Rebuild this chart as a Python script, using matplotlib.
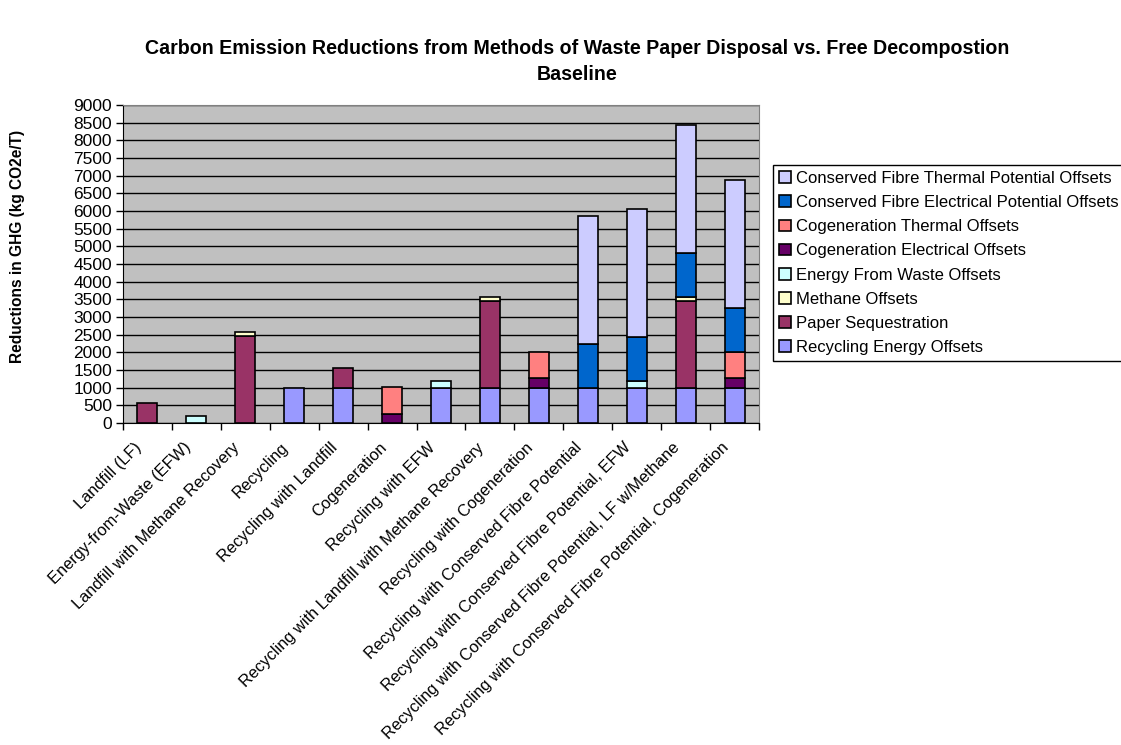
import numpy as np
import matplotlib
matplotlib.use("Agg")
import matplotlib.pyplot as plt
import matplotlib.transforms as mtransforms
from matplotlib.patches import Patch

plt.rcParams["font.family"] = ["Liberation Sans", "DejaVu Sans"]

categories = [
    "Landfill (LF)",
    "Energy-from-Waste (EFW)",
    "Landfill with Methane Recovery",
    "Recycling",
    "Recycling with Landfill",
    "Cogeneration",
    "Recycling with EFW",
    "Recycling with Landfill with Methane Recovery",
    "Recycling with Cogeneration",
    "Recycling with Conserved Fibre Potential",
    "Recycling with Conserved Fibre Potential, EFW",
    "Recycling with Conserved Fibre Potential, LF w/Methane",
    "Recycling with Conserved Fibre Potential, Cogeneration",
]

# stacked bottom to top
recycling_energy = [0, 0, 0, 1000, 1000, 0, 1000, 1000, 1000, 1000, 1000, 1000, 1000]
paper_sequestration = [570, 0, 2450, 0, 570, 0, 0, 2450, 0, 0, 0, 2450, 0]
methane = [0, 0, 120, 0, 0, 0, 0, 120, 0, 0, 0, 120, 0]
energy_from_waste = [0, 200, 0, 0, 0, 0, 200, 0, 0, 0, 200, 0, 0]
cogen_electrical = [0, 0, 0, 0, 0, 260, 0, 0, 260, 0, 0, 0, 260]
cogen_thermal = [0, 0, 0, 0, 0, 760, 0, 0, 760, 0, 0, 0, 760]
fibre_electrical = [0, 0, 0, 0, 0, 0, 0, 0, 0, 1230, 1230, 1230, 1230]
fibre_thermal = [0, 0, 0, 0, 0, 0, 0, 0, 0, 3640, 3640, 3640, 3640]

series = [
    ("Recycling Energy Offsets", recycling_energy, "#9999FF"),
    ("Paper Sequestration", paper_sequestration, "#993366"),
    ("Methane Offsets", methane, "#FFFFCC"),
    ("Energy From Waste Offsets", energy_from_waste, "#CCFFFF"),
    ("Cogeneration Electrical Offsets", cogen_electrical, "#660066"),
    ("Cogeneration Thermal Offsets", cogen_thermal, "#FF8080"),
    ("Conserved Fibre Electrical Potential Offsets", fibre_electrical, "#0066CC"),
    ("Conserved Fibre Thermal Potential Offsets", fibre_thermal, "#CCCCFF"),
]

fig = plt.figure(figsize=(11.21, 7.45), dpi=100)
ax = fig.add_axes([123 / 1121, 1 - 423 / 745, (759 - 123) / 1121, (423 - 105) / 745])
ax.set_facecolor("#C0C0C0")

x = np.arange(len(categories))
bottom = np.zeros(len(categories))
for name, vals, color in series:
    vals = np.asarray(vals, dtype=float)
    mask = vals > 0
    ax.bar(x[mask], vals[mask], 0.41, bottom=bottom[mask], color=color,
           edgecolor="black", linewidth=1.2, zorder=3)
    bottom += vals

ax.set_xlim(-0.5, len(categories) - 0.5)
ax.set_ylim(0, 9000)
ax.set_yticks(np.arange(0, 9001, 500))
ax.yaxis.grid(True, color="black", linewidth=1.0, zorder=1)
ax.tick_params(axis="y", direction="out", length=5, width=1, labelsize=12.5, pad=3)

ax.set_xticks(x)
ax.set_xticks(np.arange(-0.5, len(categories)), minor=True)
ax.set_xticklabels(categories, rotation=45, ha="right", va="center",
                   rotation_mode="anchor", fontsize=11.8)
ax.tick_params(axis="x", which="major", length=0, pad=16)
ax.tick_params(axis="x", which="minor", direction="out", length=5, width=1)

# nudge the slanted labels a little to the left of the bar centres
shift = mtransforms.ScaledTranslation(-8 / 100, 0, fig.dpi_scale_trans)
for lbl in ax.get_xticklabels():
    lbl.set_transform(lbl.get_transform() + shift)

for side in ("top", "right"):
    ax.spines[side].set_color("#808080")
for side in ("left", "bottom"):
    ax.spines[side].set_color("black")

ax.set_ylabel("Reductions in GHG (kg CO2e/T)", fontsize=11.2, fontweight="bold")
ax.yaxis.set_label_coords(-0.154, 0.555)

fig.suptitle("Carbon Emission Reductions from Methods of Waste Paper Disposal vs. Free Decompostion\nBaseline",
             x=577 / 1121, y=1 - 39 / 745, fontsize=14.1, fontweight="bold", va="top",
             linespacing=1.5)

handles = [Patch(facecolor=c, edgecolor="black", linewidth=1.2, label=n)
           for n, _, c in reversed(series)]
leg = fig.legend(handles=handles, loc="upper left",
                 bbox_to_anchor=(773 / 1121, 1 - 165 / 745),
                 fontsize=12, frameon=True, fancybox=False, framealpha=1,
                 edgecolor="black", handlelength=0.7, handleheight=0.7,
                 handletextpad=0.3, labelspacing=0.55, borderpad=0.35,
                 borderaxespad=0)
leg.get_frame().set_linewidth(1.0)

fig.savefig("out.png", dpi=100)
